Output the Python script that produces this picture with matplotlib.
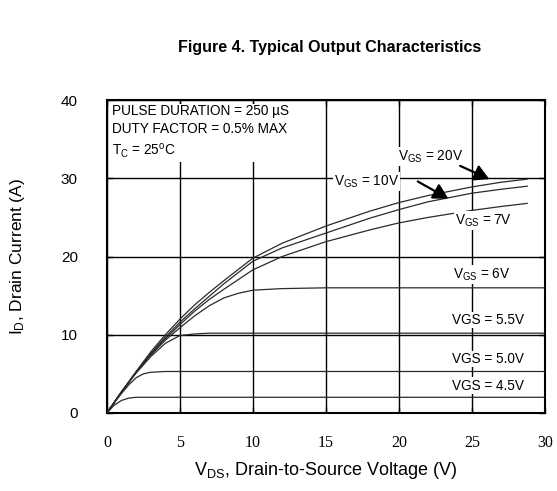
import matplotlib
matplotlib.use("Agg")
import matplotlib.pyplot as plt

plt.rcParams["font.family"] = ["Liberation Sans", "DejaVu Sans"]
plt.rcParams["mathtext.fontset"] = "custom"
plt.rcParams["mathtext.rm"] = "Liberation Sans"
plt.rcParams["mathtext.it"] = "Liberation Sans:italic"

# curves (VDS in V, ID in A)
vds_20 = [0, 1, 2, 3, 4, 5, 6, 7, 8, 10, 12, 15, 18, 20, 22, 25, 27, 28.8]
id_20 = [0, 2.7, 5.3, 7.8, 10.0, 12.0, 13.8, 15.4, 16.9, 19.8, 21.7, 23.9, 25.8, 26.9, 27.8, 28.9, 29.5, 29.9]

vds_10 = [0, 1, 2, 3, 4, 5, 6, 7, 8, 10, 12, 15, 18, 20, 22, 25, 27, 28.8]
id_10 = [0, 2.7, 5.2, 7.6, 9.7, 11.6, 13.3, 14.9, 16.5, 19.4, 21.1, 23.0, 24.9, 26.0, 27.0, 28.1, 28.6, 29.0]

vds_7 = [0, 1, 2, 3, 4, 5, 6, 7, 8, 10, 12, 15, 18, 20, 22, 25, 27, 28.8]
id_7 = [0, 2.7, 5.2, 7.5, 9.5, 11.3, 13.0, 14.5, 15.8, 18.3, 20.0, 21.9, 23.4, 24.3, 25.0, 25.9, 26.4, 26.8]

vds_6 = [0, 1, 2, 3, 4, 5, 6, 7, 8, 9, 10, 12, 15, 30]
id_6 = [0, 2.7, 5.2, 7.4, 9.3, 10.9, 12.4, 13.7, 14.7, 15.3, 15.7, 15.9, 16.0, 16.0]

vds_55 = [0, 1, 2, 3, 4, 5, 6, 7, 30]
id_55 = [0, 2.7, 5.1, 7.2, 8.9, 9.9, 10.1, 10.2, 10.2]

vds_50 = [0, 0.5, 1, 1.5, 2, 2.5, 3, 4, 30]
id_50 = [0, 1.3, 2.5, 3.6, 4.5, 5.0, 5.2, 5.3, 5.3]

vds_45 = [0, 0.5, 1, 1.5, 2, 30]
id_45 = [0, 1.0, 1.6, 1.9, 2.0, 2.0]

x_ticks = [0, 5, 10, 15, 20, 25, 30]
y_ticks = [0, 10, 20, 30, 40]

fig = plt.figure(figsize=(5.57, 4.91), dpi=100)
ax = fig.add_axes([0.192, 0.159, 0.786, 0.637])

for xs, ys in [(vds_20, id_20), (vds_10, id_10), (vds_7, id_7), (vds_6, id_6),
               (vds_55, id_55), (vds_50, id_50), (vds_45, id_45)]:
    ax.plot(xs, ys, color="#2a2a2a", lw=0.9, zorder=3)

ax.set_xlim(0, 30)
ax.set_ylim(0, 40)
ax.set_xticks(x_ticks)
ax.set_yticks(y_ticks)
ax.grid(True, color="black", lw=1.0, zorder=1)
ax.set_axisbelow(True)
for s in ax.spines.values():
    s.set_linewidth(1.5)
ax.tick_params(direction="in", length=4, top=True, right=True, width=1.0)
ax.tick_params(axis="x", pad=16, labelsize=11.5)
ax.tick_params(axis="y", pad=21, labelsize=11)
for lab in ax.get_xticklabels():
    lab.set_fontfamily("Liberation Serif")

ax.set_xlabel("V$_{\\rm DS}$, Drain-to-Source Voltage (V)", fontsize=13)
ax.xaxis.set_label_coords(0.5, -0.152)
ax.set_ylabel("I$_{\\rm D}$, Drain Current (A)", fontsize=12.5)
ax.yaxis.set_label_coords(-0.183, 0.5)

fig.text(0.592, 0.904, "Figure 4. Typical Output Characteristics",
         ha="center", va="center", fontsize=11.5, fontweight="bold")

ax.text(0.35, 39.5,
        "PULSE DURATION = 250 µS\nDUTY FACTOR = 0.5% MAX\nT$_{\\rm C}$ = 25$^{\\rm o}$C",
        ha="left", va="top", fontsize=9.8, linespacing=1.4, zorder=4,
        bbox=dict(facecolor="white", edgecolor="none", pad=1.5))

box = dict(facecolor="white", edgecolor="none", pad=0.8)
labels = [
    ("V$_{\\rm GS}$ = 20V", 22.2, 32.8),
    ("V$_{\\rm GS}$ = 10V", 17.8, 29.6),
    ("V$_{\\rm GS}$ = 7V", 25.8, 24.6),
    ("V$_{\\rm GS}$ = 6V", 25.7, 17.7),
    ("VGS = 5.5V", 26.1, 11.9),
    ("VGS = 5.0V", 26.1, 6.9),
    ("VGS = 4.5V", 26.1, 3.5),
]
for txt, x, y in labels:
    ax.text(x, y, txt, ha="center", va="center", fontsize=9.8, zorder=4, bbox=box)

arrow = dict(arrowstyle="-|>,head_length=0.45,head_width=0.25", color="black",
             lw=1.6, mutation_scale=20, shrinkA=0, shrinkB=0)
ax.annotate("", xy=(23.4, 27.4), xytext=(21.3, 29.6), arrowprops=arrow, zorder=5)
ax.annotate("", xy=(26.2, 29.9), xytext=(24.2, 31.6), arrowprops=arrow, zorder=5)

fig.savefig("out.png", dpi=100)
